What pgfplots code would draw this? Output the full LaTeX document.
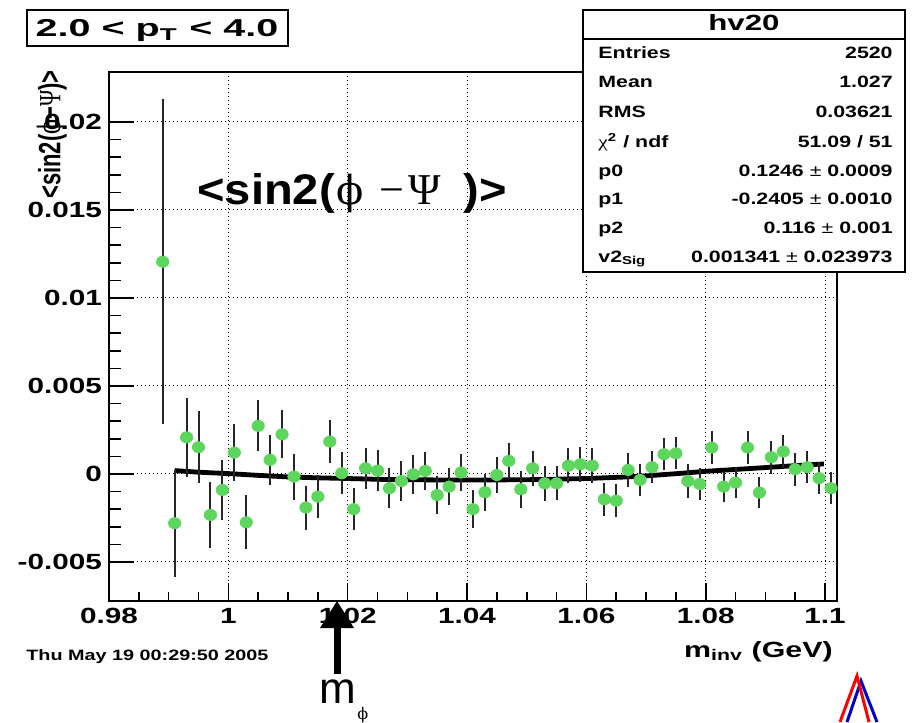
\documentclass[border=0pt]{standalone}
\usepackage{pgfplots}
\pgfplotsset{compat=1.18}
\usepackage{pgfplotstable}
\usepackage{graphicx}
\usepackage{fontspec}
\setmainfont{Liberation Sans}
\newfontfamily\sym{Liberation Serif}
\newfontfamily\symphi{DejaVu Serif}

\definecolor{rootgreen}{RGB}{92,214,92}
\newcommand\W[1]{\scalebox{1.35}[1]{#1}}
\newcommand\SW[1]{\scalebox{1.3}[1]{#1}}

% <sin 2(phi - Psi)> per invariant-mass bin: centre, value, error
\pgfplotstableread{
x      y         ey
0.989  0.01206   0.00923
0.991  -0.00280  0.00303
0.993  0.00208   0.00226
0.995  0.00152   0.00203
0.997  -0.00233  0.00185
0.999  -0.00091  0.00170
1.001  0.00121   0.00163
1.003  -0.00275  0.00154
1.005  0.00273   0.00145
1.007  0.00080   0.00142
1.009  0.00225   0.00137
1.011  -0.00015  0.00131
1.013  -0.00191  0.00125
1.015  -0.00129  0.00123
1.017  0.00184   0.00121
1.019  0.00004   0.00118
1.021  -0.00200  0.00118
1.023  0.00032   0.00118
1.025  0.00019   0.00115
1.027  -0.00081  0.00114
1.029  -0.00040  0.00115
1.031  -0.00002  0.00112
1.033  0.00017   0.00109
1.035  -0.00120  0.00106
1.037  -0.00072  0.00107
1.039  0.00008   0.00103
1.041  -0.00200  0.00106
1.043  -0.00104  0.00105
1.045  -0.00006  0.00104
1.047  0.00074   0.00103
1.049  -0.00087  0.00104
1.051  0.00032   0.00098
1.053  -0.00053  0.00101
1.055  -0.00053  0.00097
1.057  0.00047   0.00098
1.059  0.00055   0.00098
1.061  0.00047   0.00100
1.063  -0.00144  0.00095
1.065  -0.00152  0.00095
1.067  0.00023   0.00098
1.069  -0.00034  0.00090
1.071  0.00038   0.00092
1.073  0.00112   0.00092
1.075  0.00117   0.00091
1.077  -0.00040  0.00094
1.079  -0.00057  0.00093
1.081  0.00150   0.00093
1.083  -0.00072  0.00090
1.085  -0.00049  0.00090
1.087  0.00150   0.00095
1.089  -0.00106  0.00090
1.091  0.00095   0.00095
1.093  0.00127   0.00095
1.095  0.00027   0.00093
1.097  0.00038   0.00092
1.099  -0.00024  0.00092
1.101  -0.00081  0.00090
}\hvdata

% fitted background + signal curve
\pgfplotstableread{
x       y
0.991   0.00019
0.995   0.00010
1.000   0.00002
1.005   -0.00008
1.010   -0.00017
1.015   -0.00022
1.020   -0.00026
1.027   -0.00032
1.035   -0.00034
1.045   -0.00034
1.052   -0.00032
1.060   -0.00026
1.066   -0.00018
1.070   -0.00011
1.076   0.00004
1.080   0.00015
1.088   0.00032
1.094   0.00045
1.0998  0.00057
}\fitcurve

\begin{document}
\begin{tikzpicture}[x=0.5pt,y=-0.5pt]
\useasboundingbox (0,0) rectangle (914,722);
\coordinate (frameSW) at (109,601);
\begin{axis}[
  at={(frameSW)}, anchor=south west,
  scale only axis, width=364pt, height=264.5pt,
  xmin=0.98, xmax=1.102, ymin=-0.00722, ymax=0.02284,
  xtick={0.98,1,1.02,1.04,1.06,1.08,1.1},
  xticklabels={\W{0.98},\W{1},\W{1.02},\W{1.04},\W{1.06},\W{1.08},\W{1.1}},
  ytick={-0.005,0,0.005,0.01,0.015,0.02},
  yticklabels={\W{-0.005},\W{0},\W{0.005},\W{0.01},\W{0.015},\W{0.02}},
  scaled ticks=false,
  minor x tick num=3, minor y tick num=4,
  tick pos=left, tick align=inside,
  ticklabel style={font=\fontsize{11}{13}\selectfont\bfseries},
  axis line style={line width=1pt},
  every tick/.style={black, line width=0.8pt},
  xtick style={/pgfplots/major tick length=9pt, /pgfplots/minor tick length=4.5pt},
  ytick style={/pgfplots/major tick length=12.5pt, /pgfplots/minor tick length=6pt},
  grid=major,
  major grid style={black, line width=0.5pt, dash pattern=on 0.5pt off 1.5pt},
]
\addplot[black, line width=2.4pt, mark=none] table[x=x, y=y]{\fitcurve};
\addplot[draw=none, mark=none, forget plot,
  error bars/.cd, y dir=both, y explicit, error mark=none,
  error bar style={line width=1pt, black!85}]
  table[x=x, y=y, y error=ey]{\hvdata};
\addplot[only marks, color=rootgreen, mark=*, mark size=2.8pt,
  mark options={draw=rootgreen, fill=rootgreen, xscale=1.1}]
  table[x=x, y=y]{\hvdata};
\end{axis}

% y-axis title
\node[rotate=90, anchor=east, inner sep=0, font=\fontsize{11}{13}\selectfont\bfseries]
  at (52,70) {\scalebox{1}[1.4]{<sin2({\symphi\mdseries ϕ}−{\sym\mdseries Ψ})>}};

% x-axis title and date stamp
\node[anchor=base east, inner sep=0, font=\fontsize{11}{13}\selectfont\bfseries]
  at (833,657) {\scalebox{1.38}[1]{m\textsubscript{inv} (GeV)}};
\node[anchor=base west, inner sep=0, font=\fontsize{7.5}{9}\selectfont\bfseries]
  at (26,660) {\scalebox{1.32}[1]{Thu May 19 00:29:50 2005}};

% pT window
\draw[line width=0.8pt, fill=white] (27,10) rectangle (288,46);
\node[anchor=base, inner sep=0, font=\fontsize{12.2}{14}\selectfont\bfseries]
  at (157,37) {\scalebox{1.62}[1]{2.0 < p\textsubscript{T} < 4.0}};

% statistics box
\draw[line width=0.8pt, fill=white] (583,10) rectangle (905,272);
\draw[line width=0.8pt] (583,39) -- (905,39);
\node[anchor=base, inner sep=0, font=\fontsize{11}{13}\selectfont\bfseries]
  at (744,31) {\scalebox{1.42}[1]{hv20}};
\begin{scope}[every node/.style={inner sep=0, font=\fontsize{8.2}{10}\selectfont\bfseries}]
\node[anchor=base west] at (598,59)  {\SW{Entries}};
\node[anchor=base east] at (893,59)  {\SW{2520}};
\node[anchor=base west] at (598,88)  {\SW{Mean}};
\node[anchor=base east] at (893,88)  {\SW{1.027}};
\node[anchor=base west] at (598,118) {\SW{RMS}};
\node[anchor=base east] at (893,118) {\SW{0.03621}};
\node[anchor=base west] at (598,147) {\SW{{\sym\mdseries χ}\textsuperscript{2} / ndf}};
\node[anchor=base east] at (893,147) {\SW{51.09 / 51}};
\node[anchor=base west] at (598,176) {\SW{p0}};
\node[anchor=base east] at (893,176) {\SW{0.1246 {\mdseries ±} 0.0009}};
\node[anchor=base west] at (598,204) {\SW{p1}};
\node[anchor=base east] at (893,204) {\SW{-0.2405 {\mdseries ±} 0.0010}};
\node[anchor=base west] at (598,233) {\SW{p2}};
\node[anchor=base east] at (893,233) {\SW{0.116 {\mdseries ±} 0.001}};
\node[anchor=base west] at (598,262) {\SW{v2\textsubscript{Sig}}};
\node[anchor=base east] at (893,262) {\SW{0.001341 {\mdseries ±} 0.023973}};
\end{scope}

% observable written inside the frame
\node[anchor=base west, inner sep=0, font=\fontsize{21.4}{25}\selectfont\bfseries]
  at (197,204) {\scalebox{1.1}[1]{<sin2(}};
\node[anchor=base west, inner sep=0, font=\fontsize{20}{24}\selectfont\symphi] at (336,204) {ϕ};
\node[anchor=base west, inner sep=0, font=\fontsize{22}{26}\selectfont\sym] at (379,204) {−};
\node[anchor=base west, inner sep=0, font=\fontsize{22}{26}\selectfont\sym] at (408,204) {Ψ};
\node[anchor=base west, inner sep=0, font=\fontsize{21.4}{25}\selectfont\bfseries]
  at (463,204) {\scalebox{1.1}[1]{)>}};

% phi mass marker
\fill[black] (333.5,674) rectangle (340.5,626);
\fill[black] (320,628) -- (354,628) -- (337,601) -- cycle;
\node[anchor=base west, inner sep=0, font=\fontsize{22}{26}\selectfont] at (319,703) {m};
\node[anchor=base west, inner sep=0, font=\fontsize{8}{9}\selectfont\symphi] at (357,719) {ϕ};

% corner logo
\draw[blue!80!black, line width=1.5pt] (847,722) -- (861,681) -- (877,722);
\draw[red, line width=1.5pt] (840,722) -- (857,676) -- (869,722);
\end{tikzpicture}
\end{document}
